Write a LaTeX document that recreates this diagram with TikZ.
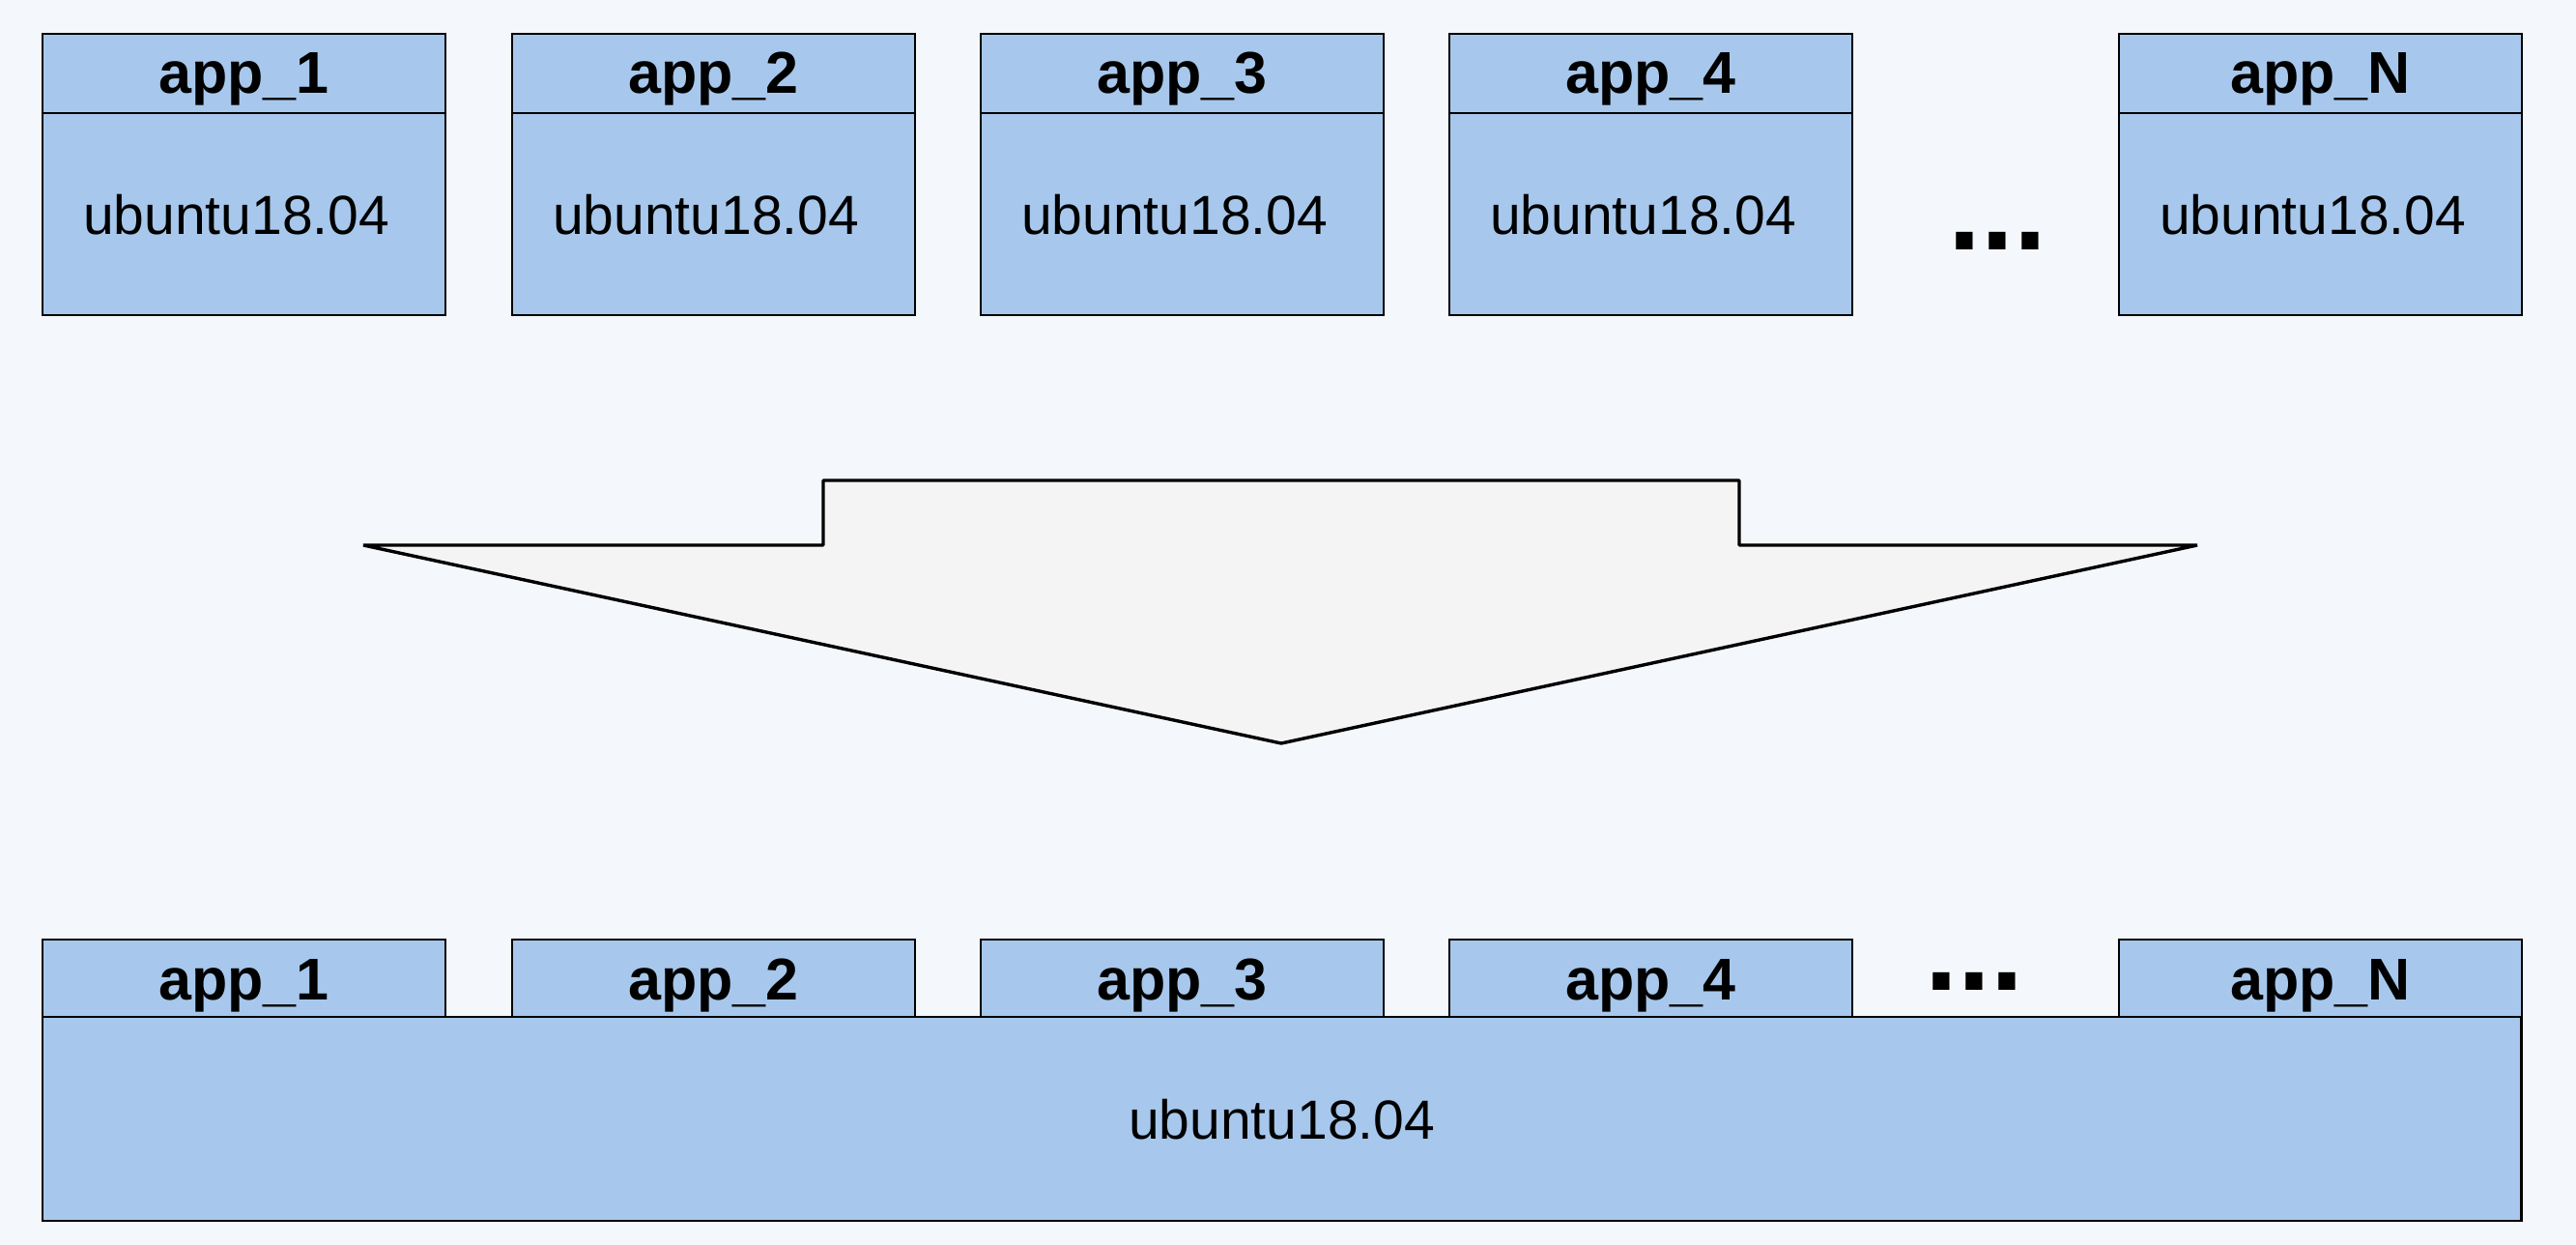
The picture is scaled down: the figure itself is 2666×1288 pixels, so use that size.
\documentclass[tikz,border=0pt]{standalone}
\usepackage{fontspec}
\setmainfont{Liberation Sans}
\definecolor{bg}{HTML}{F4F7FC}
\definecolor{boxblue}{HTML}{A7C8EC}
\definecolor{arrowfill}{HTML}{F4F4F4}
\begin{document}
\begin{tikzpicture}[x=0.5bp,y=-0.5bp, line width=1.4bp,
  box/.style={draw=black, fill=boxblue, inner sep=0pt, outer sep=0pt, anchor=north west, minimum width=208.5bp},
  hdrtxt/.style={font=\bfseries\fontsize{30.5bp}{36bp}\selectfont, anchor=base, inner sep=0pt},
  ostxt/.style={font=\fontsize{28.5bp}{34bp}\selectfont, anchor=base, inner sep=0pt},
  dotstxt/.style={font=\bfseries\fontsize{61bp}{70bp}\selectfont, anchor=base, inner sep=0pt}]
\fill[bg] (0,0) rectangle (2666,1288);
\useasboundingbox (0,0) rectangle (2666,1288);
% top row: separate images
\foreach \i/\L/\t in {1/44/app\_1, 2/530/app\_2, 3/1015/app\_3, 4/1500/app\_4, N/2193/app\_N}{
  \node[box, minimum height=41bp] (th\i) at (\L,35) {};
  \node[box, minimum height=104.5bp] (tb\i) at (\L,117) {};
  \node[hdrtxt] (tht\i) at (\L+208.5,97) {\t};
  \node[ostxt] (tbt\i) at (\L+200.5,243) {ubuntu18.04};
}
\node[dotstxt] (tdots) at (2067,259) {...};
% arrow
\draw[fill=arrowfill, line width=1.7bp, line join=bevel] (376,564) -- (852,564) -- (852,497) -- (1800,497) -- (1800,564) -- (2274,564) -- (1326,769) -- cycle;
% bottom: shared base
\node[box, minimum width=1282.5bp, minimum height=105.5bp] (base) at (44,1052) {};
\node[ostxt] (baset) at (1326.5,1178) {ubuntu18.04};
\foreach \i/\L/\t in {1/44/app\_1, 2/530/app\_2, 3/1015/app\_3, 4/1500/app\_4, N/2193/app\_N}{
  \node[box, minimum height=40bp] (bh\i) at (\L,972) {};
  \node[hdrtxt] (bht\i) at (\L+208.5,1034) {\t};
}
\node[dotstxt] (bdots) at (2043,1024) {...};
\end{tikzpicture}
\end{document}
